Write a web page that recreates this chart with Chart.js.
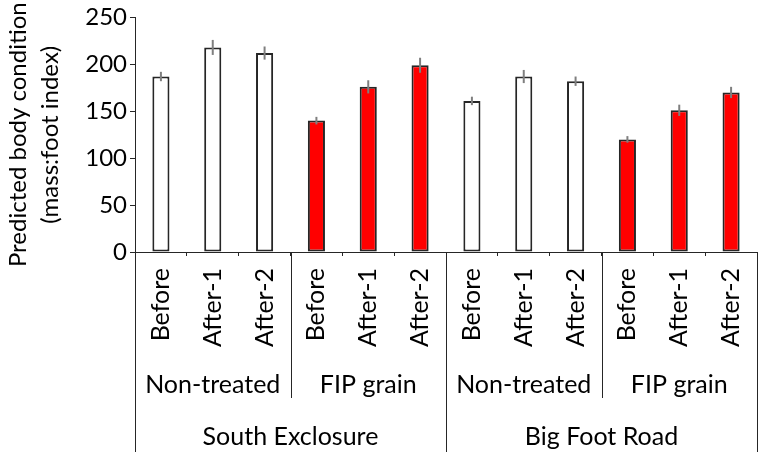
<!DOCTYPE html>
<html>
<head>
<meta charset="utf-8">
<script src="https://cdn.jsdelivr.net/npm/chart.js@4"></script>
<style>
  body { margin: 0; background: #fff; }
</style>
</head>
<body>
<canvas id="chart" width="761" height="456"></canvas>
<script>
// data
const barLabels = ['Before', 'After-1', 'After-2', 'Before', 'After-1', 'After-2',
                   'Before', 'After-1', 'After-2', 'Before', 'After-1', 'After-2'];
const treatments = ['Non-treated', 'FIP grain', 'Non-treated', 'FIP grain'];
const sites = ['South Exclosure', 'Big Foot Road'];
const bodyCondition = [187, 218, 212, 140, 176, 199, 161, 187, 182, 120, 151, 170];
const errors = [5, 8, 7, 4, 7, 8, 4.5, 7, 5, 3.5, 6, 6];
const yTicks = [0, 50, 100, 150, 200, 250];

const FONT = { family: 'Lato', size: 24 };
const CAT_FONT = { family: 'Lato', size: 25 };
const AXIS = '#262626';

// each bar belongs to a treatment group, FIP grain bars are red
const perTreatment = barLabels.length / treatments.length;
const perSite = barLabels.length / sites.length;
const fills = barLabels.map((_, i) =>
    treatments[Math.floor(i / perTreatment)] === 'FIP grain' ? '#ff0000' : '#ffffff');

// no extra side padding for the category axes
function fixHeight(h) {
    return scale => {
        scale.height = h;
        scale.paddingLeft = 0;
        scale.paddingRight = 0;
    };
}

// Draw error bars from the y scale
const errorBars = {
    id: 'errorBars',
    afterDatasetsDraw(chart) {
        const { ctx, scales: { x, y } } = chart;
        ctx.save();
        ctx.strokeStyle = '#7f7f7f';
        ctx.lineWidth = 2;
        bodyCondition.forEach((v, i) => {
            const px = x.getPixelForValue(i);
            ctx.beginPath();
            ctx.moveTo(px, y.getPixelForValue(v - errors[i]));
            ctx.lineTo(px, y.getPixelForValue(v + errors[i]));
            ctx.stroke();
        });
        ctx.restore();
    }
};

// Draw the vertical separators of the grouped category axis
const groupLines = {
    id: 'groupLines',
    afterDraw(chart) {
        const { ctx, chartArea, scales: { x, x2, x3 } } = chart;
        const step = x.getPixelForValue(1) - x.getPixelForValue(0);
        const edge = i => x.getPixelForValue(i) - step / 2;
        ctx.save();
        ctx.strokeStyle = AXIS;
        ctx.lineWidth = 1;
        for (let i = 0; i <= barLabels.length; i += perTreatment) {
            const px = Math.round(edge(i)) + 0.5;
            const bottom = i % perSite === 0 ? x3.bottom - 4 : x2.bottom - 2;
            ctx.beginPath();
            ctx.moveTo(px, chartArea.bottom);
            ctx.lineTo(px, bottom);
            ctx.stroke();
        }
        ctx.restore();
    }
};

new Chart(document.getElementById('chart'), {
    type: 'bar',
    data: {
        labels: barLabels,
        datasets: [{
            data: bodyCondition,
            backgroundColor: fills,
            borderColor: AXIS,
            borderWidth: 2,
            borderSkipped: false,
            barPercentage: 0.33,
            categoryPercentage: 1
        }]
    },
    options: {
        responsive: false,
        animation: false,
        layout: { padding: { top: 14, right: 4, left: 0, bottom: 0 } },
        plugins: {
            legend: { display: false },
            tooltip: { enabled: false }
        },
        scales: {
            y: {
                min: 0,
                max: 250,
                afterBuildTicks: scale => { scale.ticks = yTicks.map(v => ({ value: v })); },
                afterFit: scale => { scale.width = 135; },
                ticks: { font: FONT, color: '#000', padding: 3 },
                grid: { drawOnChartArea: false, tickLength: 5, color: AXIS },
                border: { color: AXIS, width: 1 },
                title: {
                    display: true,
                    text: ['Predicted body condition', '(mass:foot index)'],
                    font: { family: 'Lato', size: 24, lineHeight: 1.3 },
                    color: '#000',
                    padding: { top: 3, bottom: 0 }
                }
            },
            x: {
                weight: 0,
                afterFit: fixHeight(106),
                ticks: { font: CAT_FONT, color: '#000', minRotation: 90, maxRotation: 90, autoSkip: false, padding: 12 },
                grid: { offset: true, drawOnChartArea: false, tickLength: 4, color: AXIS },
                border: { color: AXIS, width: 1 }
            },
            x2: {
                type: 'category',
                position: 'bottom',
                weight: 1,
                labels: treatments,
                offset: true,
                afterFit: fixHeight(42),
                ticks: { font: CAT_FONT, color: '#000', maxRotation: 0, autoSkip: false, padding: 4 },
                grid: { display: false },
                border: { display: false }
            },
            x3: {
                type: 'category',
                position: 'bottom',
                weight: 2,
                labels: sites,
                offset: true,
                afterFit: fixHeight(56),
                ticks: { font: CAT_FONT, color: '#000', maxRotation: 0, autoSkip: false, padding: 14 },
                grid: { display: false },
                border: { display: false }
            }
        }
    },
    plugins: [errorBars, groupLines]
});
</script>
</body>
</html>
